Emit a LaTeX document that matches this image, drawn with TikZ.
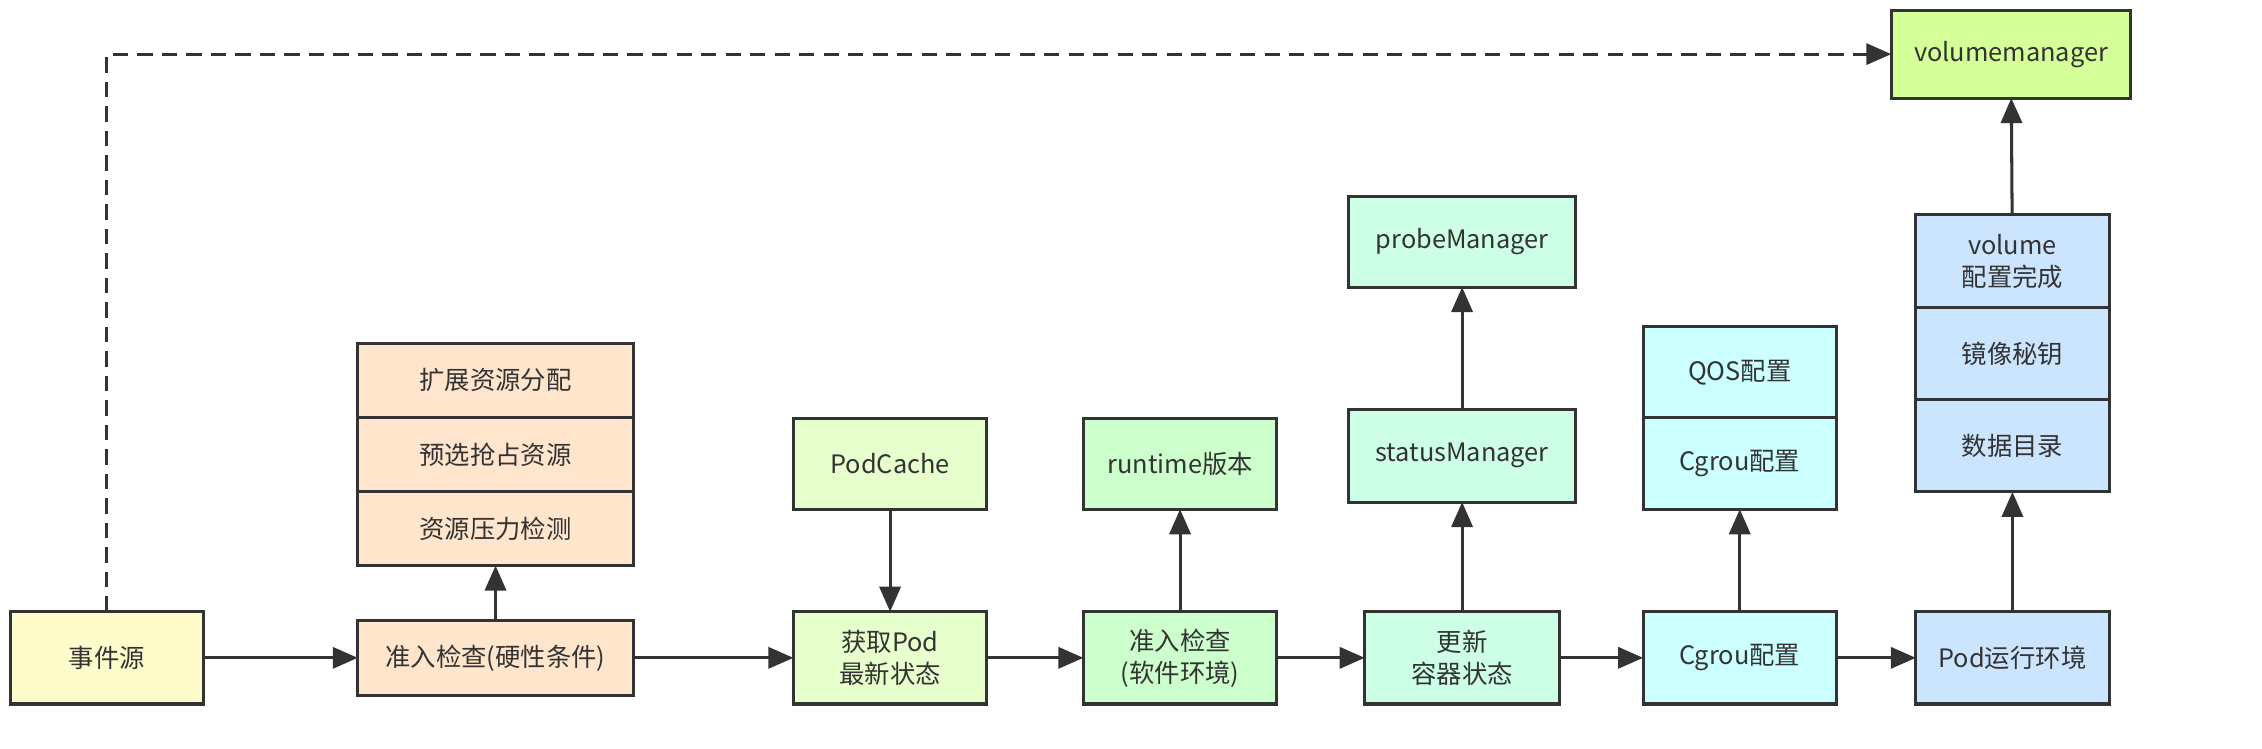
\documentclass[tikz,border=0pt]{standalone}
\usepackage{fontspec}
\setmainfont{Noto Sans CJK SC}
\usetikzlibrary{arrows.meta,positioning}
\definecolor{linegray}{HTML}{333333}
\definecolor{srcyellow}{HTML}{FFFCCB}
\definecolor{hardorange}{HTML}{FFE5CC}
\definecolor{podlime}{HTML}{E6FFCC}
\definecolor{softgreen}{HTML}{CCFFCC}
\definecolor{updmint}{HTML}{CCFFE6}
\definecolor{cgrcyan}{HTML}{CCFFFF}
\definecolor{envblue}{HTML}{CCE5FF}
\definecolor{volgreen}{HTML}{D5FF99}
\tikzset{>={Triangle[length=0.52cm,width=0.44cm]}}
\tikzset{box/.style={draw=linegray,line width=1.8pt,text=linegray,align=center,
    minimum width=4.02cm,minimum height=1.92cm,inner sep=2pt,outer sep=0pt,
    font=\fontsize{15}{19}\selectfont},
  flow/.style={->,draw=linegray,line width=1.8pt}}

\begin{document}
\begin{tikzpicture}[x=0.03cm,y=-0.03cm]
        \useasboundingbox (0,0) rectangle (1568,519);
        \node[box,fill=srcyellow] (src) at (74,456) {事件源};
        \node[box,fill=hardorange,minimum width=5.73cm,minimum height=1.56cm] (hard) at (343.5,456) {准入检查(硬性条件)};
        \node[box,fill=hardorange,minimum width=5.73cm,minimum height=1.54cm] (extres) at (343.5,263.7) {扩展资源分配};
        \node[box,fill=hardorange,minimum width=5.73cm,minimum height=1.54cm,below=0pt of extres] (preempt) {预选抢占资源};
        \node[box,fill=hardorange,minimum width=5.73cm,minimum height=1.54cm,below=0pt of preempt] (pressure) {资源压力检测};
        \node[box,fill=podlime] (getpod) at (617,456) {获取Pod\\最新状态};
        \node[box,fill=podlime,minimum height=1.89cm] (podcache) at (617,321.5) {PodCache};
        \node[box,fill=softgreen] (soft) at (818,456) {准入检查\\(软件环境)};
        \node[box,fill=softgreen,minimum height=1.89cm] (runtime) at (818,321.5) {runtime版本};
        \node[box,fill=updmint,minimum width=4.05cm] (update) at (1013.5,456) {更新\\容器状态};
        \node[box,fill=updmint,minimum width=4.71cm] (status) at (1013.5,316) {statusManager};
        \node[box,fill=updmint,minimum width=4.71cm,minimum height=1.89cm] (probe) at (1013.5,167.5) {probeManager};
        \node[box,fill=cgrcyan] (cgroup) at (1206,456) {Cgrou配置};
        \node[box,fill=cgrcyan,minimum height=1.9cm] (qos) at (1206,258) {QOS配置};
        \node[box,fill=cgrcyan,minimum height=1.9cm,below=0pt of qos] (cgroupcfg) {Cgrou配置};
        \node[box,fill=envblue] (podenv) at (1395,456) {Pod运行环境};
        \node[box,fill=envblue] (volume) at (1395,181) {volume\\配置完成};
        \node[box,fill=envblue,below=0pt of volume] (secret) {镜像秘钥};
        \node[box,fill=envblue,below=0pt of secret] (datadir) {数据目录};
        \node[box,fill=volgreen,minimum width=4.98cm,minimum height=1.83cm] (volmgr) at (1394,37.5) {volumemanager};
        \draw[flow] (src) -- (hard);
        \draw[flow] (hard) -- (pressure);
        \draw[flow] (hard) -- (getpod);
        \draw[flow] (podcache) -- (getpod);
        \draw[flow] (getpod) -- (soft);
        \draw[flow] (soft) -- (runtime);
        \draw[flow] (soft) -- (update);
        \draw[flow] (update) -- (status);
        \draw[flow] (status) -- (probe);
        \draw[flow] (update) -- (cgroup);
        \draw[flow] (cgroup) -- (cgroupcfg);
        \draw[flow] (cgroup) -- (podenv);
        \draw[flow] (podenv) -- (datadir);
        \draw[flow] (volume) -- (volmgr);
        \draw[flow,dash pattern=on 9pt off 5.5pt] (src.north) |- (volmgr.west);
    \end{tikzpicture}
\end{document}
